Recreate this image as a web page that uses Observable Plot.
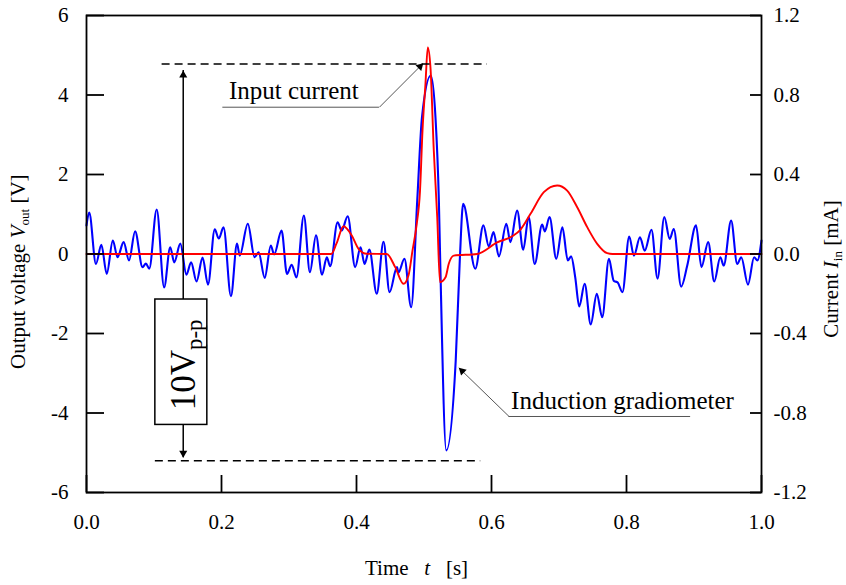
<!DOCTYPE html>
<html><head><meta charset="utf-8">
<script src="https://cdn.jsdelivr.net/npm/d3@7"></script>
<script src="https://cdn.jsdelivr.net/npm/@observablehq/plot@0.6"></script>
<style>body{margin:0;background:#fff} #chart svg{display:block}</style>
</head><body><div id="chart"></div>
<script>
// ---- data ----
// Induction gradiometer output [time s, Vout V]
const gradiometerSamples = [
  [0.000,0.72],[0.004,1.04],[0.014,-0.25],[0.022,0.23],[0.030,-0.50],[0.039,0.34],[0.046,-0.08],[0.055,0.30],
  [0.063,-0.16],[0.072,0.57],[0.083,-0.33],[0.088,-0.24],[0.093,-0.37],[0.104,1.12],[0.115,-0.84],[0.124,0.17],
  [0.130,-0.21],[0.139,0.26],[0.148,-0.52],[0.155,-0.21],[0.163,-0.69],[0.172,-0.09],[0.180,-0.77],[0.190,0.62],
  [0.196,0.39],[0.203,0.67],[0.214,-1.06],[0.223,0.26],[0.227,-0.04],[0.239,0.76],[0.249,-0.08],[0.255,0.04],
  [0.264,-0.60],[0.273,0.21],[0.278,-0.01],[0.289,0.59],[0.297,-0.50],[0.304,-0.27],[0.311,-0.59],[0.322,0.97],
  [0.331,-0.46],[0.340,0.47],[0.349,-0.52],[0.356,-0.08],[0.361,-0.31],[0.372,0.80],[0.378,0.59],[0.387,0.95],
  [0.398,-0.33],[0.406,0.17],[0.412,-0.25],[0.419,0.11],[0.430,-1.00],[0.440,0.31],[0.449,-0.96],[0.460,-0.33],
  [0.462,-0.47],[0.471,-0.12],[0.481,-1.34],[0.490,1.35],[0.497,3.44],[0.510,4.49],[0.517,3.44],[0.522,1.35],
  [0.524,-0.16],[0.533,-4.94],[0.547,-2.68],[0.553,-0.16],[0.558,1.26],[0.576,-0.37],[0.588,0.72],[0.596,0.19],
  [0.603,0.55],[0.611,-0.06],[0.622,0.76],[0.628,0.30],[0.638,1.09],[0.647,0.11],[0.655,0.93],[0.664,-0.25],
  [0.675,0.74],[0.679,0.57],[0.686,0.93],[0.696,-0.12],[0.705,0.67],[0.713,-0.16],[0.718,-0.06],[0.724,-0.58],
  [0.730,-1.32],[0.738,-0.75],[0.747,-1.77],[0.756,-1.00],[0.764,-1.59],[0.774,-0.12],[0.781,-0.67],[0.787,-0.72],
  [0.794,-0.96],[0.804,0.44],[0.811,-0.04],[0.820,0.42],[0.827,0.08],[0.837,0.61],[0.846,-0.62],[0.856,0.93],
  [0.864,0.38],[0.870,0.63],[0.881,-0.82],[0.890,-0.29],[0.903,0.72],[0.911,-0.33],[0.921,0.30],[0.930,-0.69],
  [0.939,-0.08],[0.944,-0.29],[0.955,0.84],[0.964,-0.25],[0.970,-0.08],[0.980,-0.77],[0.989,-0.08],[0.994,-0.16],
  [1.000,0.34]
];
// Input current [time s, Iin mA]
const inputCurrentSamples = [
  [0,0],[0.3625,0],[0.3704,0.053],[0.3807,0.140],[0.393,0.093],[0.403,0.026],[0.4153,0.001],[0.4449,0],
  [0.4573,-0.066],[0.4696,-0.150],[0.477,-0.108],[0.483,0.018],[0.4889,0.143],[0.4941,0.319],[0.4978,0.621],
  [0.5022,0.858],[0.5056,1.039],[0.5096,0.938],[0.5145,0.521],[0.5196,0.185],[0.5237,-0.142],[0.5319,-0.117],
  [0.5367,-0.049],[0.5441,-0.008],[0.5788,0],[0.6084,0.058],[0.6326,0.093],[0.6430,0.123],[0.6578,0.202],
  [0.6775,0.311],[0.6973,0.345],[0.7121,0.319],[0.727,0.235],[0.7418,0.135],[0.7566,0.051],[0.7714,0.004],
  [0.7793,0],[1.0,0]
];
const timeTicks = [0, 0.2, 0.4, 0.6, 0.8, 1.0];
const voltTicks = [-6, -4, -2, 0, 2, 4, 6];
const currentTicks = [-1.2, -0.8, -0.4, 0, 0.4, 0.8, 1.2];
const VOLT_PER_MA = 5; // 6 V on left axis == 1.2 mA on right axis

// annotation texts / reference levels
const levelLines = [{v: 4.78, t1: 0.112, t2: 0.594}, {v: -5.2, t1: 0.102, t2: 0.584}];
const noteLabels = [{label: "Input current", t: 0.211, v: 3.887}, {label: "Induction gradiometer", t: 0.629, v: -3.894}];
const noteUnderlines = [{t1: 0.202, t2: 0.434, v: 3.693}, {t1: 0.626, t2: 0.895, v: -4.088}];
const noteLeaders = [{t1: 0.434, v1: 3.693, t2: 0.499, v2: 4.80}, {t1: 0.626, v1: -4.088, t2: 0.5516, v2: -2.863}];
const ppArrow = {t: 0.1433, top: 4.616, boxTop: -1.145, boxBottom: -4.30, bottom: -5.127, boxT1: 0.102, boxT2: 0.179};

// ---- layout ----
const W = 846, H = 585, mL = 86, mR = 85, mT = 15, mB = 93;
const plotW = W - mL - mR, plotH = H - mT - mB;

const grad = gradiometerSamples.map(([t, v]) => ({t, v}));
const cur = inputCurrentSamples.map(([t, i]) => ({t, i}));
const tri = 4.67; // triangle tip distance from centre for r=3

const plot = Plot.plot({
  width: W, height: H, marginLeft: mL, marginRight: mR, marginTop: mT, marginBottom: mB,
  style: {fontFamily: "'Liberation Serif', 'Times New Roman', serif", fontSize: "21px", background: "white", color: "black"},
  x: {domain: [0, 1]},
  y: {domain: [-6, 6]},
  marks: [
    Plot.line(grad, {x: "t", y: "v", stroke: "#0000ff", strokeWidth: 2.1, curve: "monotone-x"}),
    Plot.line(cur, {x: "t", y: d => d.i * VOLT_PER_MA, stroke: "#ff0000", strokeWidth: 1.9, curve: "monotone-x"}),
    // reference levels
    Plot.ruleY(levelLines, {y: "v", x1: "t1", x2: "t2", stroke: "black", strokeWidth: 1.5, strokeDasharray: "8,5"}),
    // peak-to-peak arrow and box
    Plot.ruleX([ppArrow], {x: "t", y1: "boxTop", y2: "top", stroke: "black", strokeWidth: 1.5}),
    Plot.ruleX([ppArrow], {x: "t", y1: "bottom", y2: "boxBottom", stroke: "black", strokeWidth: 1.5}),
    Plot.dot([ppArrow], {x: "t", y: "top", symbol: "triangle", r: 3, fill: "black", dy: tri}),
    Plot.dot([ppArrow], {x: "t", y: "bottom", symbol: "triangle", r: 3, fill: "black", rotate: 180, dy: -tri}),
    Plot.rect([ppArrow], {x1: "boxT1", x2: "boxT2", y1: "boxBottom", y2: "boxTop", fill: "white", stroke: "black", strokeWidth: 1.5}),
    Plot.text([{label: "10V", t: ppArrow.t, v: -2.79}], {x: "t", y: "v", text: "label", rotate: -90, fontSize: 35, textAnchor: "middle", lineAnchor: "middle", dx: 1, fill: "black"}),
    // callouts
    Plot.ruleY(noteUnderlines, {y: "v", x1: "t1", x2: "t2", stroke: "#555", strokeWidth: 1}),
    Plot.link(noteLeaders, {x1: "t1", y1: "v1", x2: "t2", y2: "v2", stroke: "#555", strokeWidth: 1}),
    Plot.dot([noteLeaders[0]], {x: "t2", y: "v2", symbol: "triangle", r: 3, fill: "black", rotate: 45, dx: -3.3, dy: 3.3}),
    Plot.dot([noteLeaders[1]], {x: "t2", y: "v2", symbol: "triangle", r: 3, fill: "black", rotate: -46, dx: 3.36, dy: 3.24}),
    Plot.text(noteLabels, {x: "t", y: "v", text: "label", textAnchor: "start", lineAnchor: "bottom", fontSize: 25, fill: "black"}),
    // frame and inward ticks
    Plot.frame({stroke: "black", strokeWidth: 1.8}),
    Plot.tickY(voltTicks, {y: d => d, insetRight: plotW - 18, stroke: "black", strokeWidth: 1.8}),
    Plot.tickY(voltTicks, {y: d => d, insetLeft: plotW - 11, stroke: "black", strokeWidth: 1.8}),
    Plot.tickX(timeTicks, {x: d => d, insetTop: plotH - 17, stroke: "black", strokeWidth: 1.8}),
    // tick labels
    Plot.axisY(voltTicks, {anchor: "left", tickSize: 0, tickPadding: 18, tickFormat: d => String(d), label: null}),
    Plot.axisY(currentTicks.map(d => d * VOLT_PER_MA), {anchor: "right", tickSize: 0, tickPadding: 12, tickFormat: d => (d / VOLT_PER_MA).toFixed(1), label: null}),
    Plot.axisX(timeTicks, {anchor: "bottom", tickSize: 0, tickPadding: 22, tickFormat: d => d.toFixed(1), label: null})
  ]
});

const svg = d3.select(plot);
// subscript for 10Vp-p
svg.selectAll("text").filter(function() { return this.textContent === "10V"; })
  .append("tspan").attr("font-size", 23).attr("dy", 7).text("p-p");

// axis titles
const left = svg.append("text").attr("transform", "translate(25,271.7) rotate(-90)")
  .attr("text-anchor", "middle").attr("font-size", 21).attr("fill", "black");
left.append("tspan").text("Output voltage ");
left.append("tspan").attr("font-style", "italic").text("V");
left.append("tspan").attr("font-size", 13).attr("dy", 4).text("out");
left.append("tspan").attr("dy", -4).text("\u00a0[V]");

const right = svg.append("text").attr("transform", "translate(838,269) rotate(-90)")
  .attr("text-anchor", "middle").attr("font-size", 21).attr("fill", "black");
right.append("tspan").text("Current ");
right.append("tspan").attr("font-style", "italic").text("I");
right.append("tspan").attr("font-size", 13).attr("dy", 4).text("in");
right.append("tspan").attr("dy", -4).text("\u00a0[mA]");

const bottom = svg.append("text").attr("x", 365).attr("y", 575)
  .attr("text-anchor", "start").attr("font-size", 21).attr("fill", "black");
bottom.append("tspan").text("Time\u00a0\u00a0\u00a0");
bottom.append("tspan").attr("font-style", "italic").text("t");
bottom.append("tspan").text("\u00a0\u00a0\u00a0[s]");

document.getElementById("chart").appendChild(plot);
</script>
</body></html>
